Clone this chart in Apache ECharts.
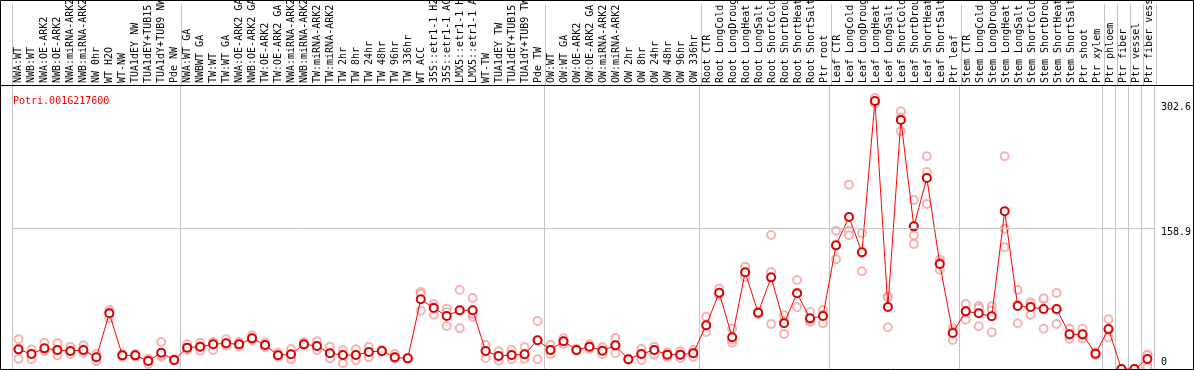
<!DOCTYPE html>
<html>
<head>
<meta charset="utf-8">
<script src="https://cdn.jsdelivr.net/npm/echarts@6.0.0/dist/echarts.min.js"></script>
<style>
html, body { margin: 0; padding: 0; background: #fff; }
#chart-panel { width: 1194px; height: 370px; }
</style>
</head>
<body>
<div id="chart-panel"></div>
<script>
var chart = echarts.init(document.getElementById('chart-panel'));

// sample names (as printed, cut to 14 chars)
var samples = [
    'NWA:WT', 'NWB:WT', 'NWA:OE-ARK2', 'NWB:OE-ARK2', 'NWA:miRNA-ARK2', 'NWB:miRNA-ARK2', 'NW 0hr',
    'WT H2O', 'WT-NW', 'TUA1dEY NW', 'TUA1dEY+TUB15', 'TUA1dY+TUB9 NW', 'Pde NW',
    'NWA:WT GA', 'NWBWT GA', 'TW:WT', 'TW:WT GA', 'NWA:OE-ARK2 GA', 'NWB:OE-ARK2 GA', 'TW:OE-ARK2',
    'TW:OE-ARK2 GA', 'NWA:miRNA-ARK2', 'NWB:miRNA-ARK2', 'TW:miRNA-ARK2', 'TW:miRNA-ARK2', 'TW 2hr',
    'TW 8hr', 'TW 24hr', 'TW 48hr', 'TW 96hr', 'TW 336hr', 'WT ACC', '35S::etr1-1 H2', '35S::etr1-1 AC',
    'LMX5::etr1-1 H', 'LMX5::etr1-1 A', 'WT-TW', 'TUA1dEY TW', 'TUA1dEY+TUB15', 'TUA1dY+TUB9 TW', 'Pde TW',
    'OW:WT', 'OW:WT GA', 'OW:OE-ARK2', 'OW:OE-ARK2 GA', 'OW:miRNA-ARK2', 'OW:miRNA-ARK2', 'OW 2hr',
    'OW 8hr', 'OW 24hr', 'OW 48hr', 'OW 96hr', 'OW 336hr',
    'Root CTR', 'Root LongCold', 'Root LongDroug', 'Root LongHeat', 'Root LongSalt', 'Root ShortCold',
    'Root ShortDrou', 'Root ShortHeat', 'Root ShortSalt', 'Ptr root',
    'Leaf CTR', 'Leaf LongCold', 'Leaf LongDroug', 'Leaf LongHeat', 'Leaf LongSalt', 'Leaf ShortCold',
    'Leaf ShortDrou', 'Leaf ShortHeat', 'Leaf ShortSalt', 'Ptr leaf',
    'Stem CTR', 'Stem LongCold', 'Stem LongDroug', 'Stem LongHeat', 'Stem LongSalt', 'Stem ShortCold',
    'Stem ShortDrou', 'Stem ShortHeat', 'Stem ShortSalt', 'Ptr shoot', 'Ptr xylem',
    'Ptr phloem', 'Ptr fiber', 'Ptr vessel', 'Ptr fiber vess'
];
// first sample of each experiment block
var groupStarts = [0, 13, 41, 53, 63, 73, 84, 85, 86, 87];

// mean expression
var meanVals = [
    22.2, 16.9, 23.3, 21.5, 20.3, 21.5, 13.2, 62.9, 15.4, 15.4, 9.0, 18.4, 10.2,
    24.1, 25.2, 27.9, 29.0, 27.9, 34.6, 27.1, 15.6, 16.6, 27.9, 26.0, 17.7, 15.8, 15.8, 19.2, 20.3,
    13.2, 12.0, 78.7, 68.9, 59.9, 66.3, 66.3, 20.3, 14.7, 15.8, 16.6, 32.5,
    21.5, 31.3, 21.5, 25.2, 20.7, 26.7, 11.0, 16.9, 21.5, 16.2, 16.2, 17.9,
    49.5, 86.2, 35.8, 109.2, 63.6, 103.5, 51.6, 85.5, 57.2, 59.9,
    139.7, 171.7, 131.8, 302.6, 70.0, 281.2, 161.1, 215.7, 118.6, 40.7,
    65.1, 62.9, 59.5, 178.1, 71.1, 70.0, 67.8, 67.8, 39.2, 39.2, 17.3,
    45.2, 0, 0, 11.3
];
// replicates
var rep1 = [
    33.5, 22.0, 29.7, 29.0, 25.2, 26.7, 16.9, 66.6, 17.0, 17.0, 11.6, 30.5, 11.0,
    27.9, 29.7, 30.5, 33.5, 30.5, 38.0, 29.7, 18.4, 22.6, 30.5, 31.3, 25.2, 21.5, 22.2, 25.2, 21.5,
    16.9, 12.5, 87.0, 73.4, 68.1, 89.2, 80.2, 27.1, 20.0, 21.5, 24.5, 54.2,
    27.4, 34.6, 22.8, 28.0, 24.5, 35.0, 11.5, 22.9, 25.2, 18.5, 20.0, 21.5,
    59.0, 90.7, 45.5, 115.6, 65.0, 151.3, 60.6, 100.5, 64.4, 66.6,
    156.2, 208.2, 153.6, 306.0, 82.1, 291.0, 190.9, 240.2, 123.5, 46.3,
    73.4, 71.1, 70.8, 240.2, 89.2, 73.4, 78.7, 85.8, 45.5, 45.5, 19.0,
    56.1, 0, 0, 16.2
];
var rep2 = [
    11.6, 11.0, 20.3, 15.4, 16.9, 18.4, 8.7, 57.2, 14.0, 14.0, 5.6, 13.9, 9.5,
    21.5, 20.7, 21.5, 26.5, 25.5, 32.5, 24.6, 13.9, 11.0, 26.5, 21.5, 12.0, 6.4, 10.2, 13.2, 19.2,
    11.5, 11.5, 84.7, 61.3, 48.6, 46.0, 59.0, 12.4, 9.4, 11.0, 11.5, 11.0,
    16.9, 28.2, 20.5, 22.5, 16.9, 17.7, 10.5, 10.2, 16.2, 13.5, 12.5, 13.5,
    41.8, 84.0, 29.7, 103.5, 62.0, 109.5, 39.5, 69.7, 53.1, 51.6,
    123.9, 156.2, 110.3, 302.0, 47.1, 268.4, 151.0, 222.5, 112.1, 32.7,
    55.7, 48.2, 41.4, 158.4, 51.6, 61.3, 45.5, 50.8, 34.2, 34.5, 15.5,
    35.8, 0, 0, 1.9
];
var rep3 = [
    22.0, 17.0, 23.0, 21.0, 20.0, 21.0, 13.0, 64.0, 15.4, 15.4, 9.5, 15.5, 10.2,
    24.0, 25.0, 28.0, 29.0, 28.0, 34.6, 27.0, 15.5, 16.5, 28.0, 26.0, 17.7, 15.8, 15.8, 19.2, 20.3,
    13.2, 12.0, 65.9, 70.0, 64.0, 66.0, 62.0, 20.3, 14.7, 15.8, 16.6, 32.0,
    21.5, 31.3, 21.5, 25.2, 20.7, 26.7, 11.0, 16.9, 21.5, 16.2, 16.2, 17.9,
    49.0, 86.0, 33.0, 109.0, 63.6, 50.8, 54.0, 86.0, 55.0, 61.0,
    139.0, 151.0, 131.0, 300.0, 81.0, 284.0, 141.2, 186.3, 120.0, 43.0,
    66.0, 69.0, 66.0, 137.4, 72.5, 75.0, 80.0, 67.0, 38.0, 38.0, 17.3,
    44.0, 0, 0, 15.8
];
// y axis labels
var yTicks = [0, 158.9, 302.6];
var yMax = 319.6;

var repPoints = [];
[rep1, rep2, rep3].forEach(function (rep) {
    for (var i = 0; i < rep.length; i++) {
        repPoints.push([i, rep[i]]);
    }
});

var mono = 'DejaVu Sans Mono';
var gridLeft = 12, gridRight = 38;

function isGroupStart(index) {
    return groupStarts.indexOf(index) >= 0;
}

var option = {
    animation: false,
    backgroundColor: '#fff',
    title: {
        text: 'Potri.001G217600',
        left: 8,
        top: 91,
        textStyle: { color: '#ff0000', fontFamily: mono, fontSize: 10, fontWeight: 'normal' }
    },
    grid: [
        { left: gridLeft, right: gridRight, top: 0, height: 85 },
        { left: gridLeft, right: gridRight, top: 86, height: 283 }
    ],
    xAxis: [{
        gridIndex: 0,
        type: 'category',
        data: samples,
        axisLine: { show: false },
        axisTick: { show: false },
        axisLabel: {
            inside: true,
            rotate: 90,
            interval: 0,
            hideOverlap: false,
            margin: 2,
            color: '#000',
            fontFamily: mono,
            fontSize: 10
        },
        splitLine: { show: true, interval: isGroupStart, lineStyle: { color: '#c4c4c4', width: 1 } }
    }, {
        gridIndex: 1,
        type: 'category',
        data: samples,
        axisLine: { show: false },
        axisTick: { show: false },
        axisLabel: { show: false },
        splitLine: { show: true, interval: isGroupStart, lineStyle: { color: '#c4c4c4', width: 1 } }
    }],
    yAxis: [{
        gridIndex: 0,
        type: 'value',
        min: 0,
        max: 1,
        show: false
    }, {
        gridIndex: 1,
        type: 'value',
        position: 'right',
        min: 0,
        max: yMax,
        axisLine: { show: false },
        axisTick: { show: false },
        splitLine: { show: false },
        axisLabel: {
            customValues: yTicks,
            margin: 7,
            color: '#000',
            fontFamily: mono,
            fontSize: 10,
            formatter: function (v) {
                if (v >= 300) return '{hi|' + v + '}';
                if (v > 0) return '{mid|' + v + '}';
                return '{lo|' + v + '}';
            },
            rich: {
                hi: { fontFamily: mono, fontSize: 10, padding: [12, 0, 0, 0] },
                mid: { fontFamily: mono, fontSize: 10, padding: [8, 0, 0, 0] },
                lo: { fontFamily: mono, fontSize: 10, padding: [0, 0, 14, 0] }
            }
        }
    }],
    series: [{
        name: 'replicates',
        type: 'scatter',
        xAxisIndex: 1,
        yAxisIndex: 1,
        symbol: 'emptyCircle',
        symbolSize: 8,
        itemStyle: { color: '#f2a0a0', borderWidth: 1.1 },
        data: repPoints,
        z: 2
    }, {
        name: 'mean',
        type: 'line',
        xAxisIndex: 1,
        yAxisIndex: 1,
        symbol: 'emptyCircle',
        symbolSize: 8,
        showSymbol: true,
        showAllSymbol: true,
        itemStyle: { color: '#d80000', borderWidth: 1.3 },
        lineStyle: { color: '#ff0000', width: 1 },
        data: meanVals,
        markLine: {
            silent: true,
            symbol: 'none',
            label: { show: false },
            lineStyle: { color: '#c4c4c4', type: 'solid', width: 1 },
            data: [{ yAxis: yTicks[1] }]
        },
        z: 3
    }],
    graphic: [{
        type: 'rect',
        shape: { x: 0.5, y: 0.5, width: 1193, height: 369 },
        style: { fill: 'none', stroke: '#000', lineWidth: 1 },
        z: 10
    }, {
        type: 'line',
        shape: { x1: 0, y1: 85.5, x2: 1194, y2: 85.5 },
        style: { stroke: '#000', lineWidth: 1 },
        z: 10
    }]
};
chart.setOption(option);
</script>
</body>
</html>
